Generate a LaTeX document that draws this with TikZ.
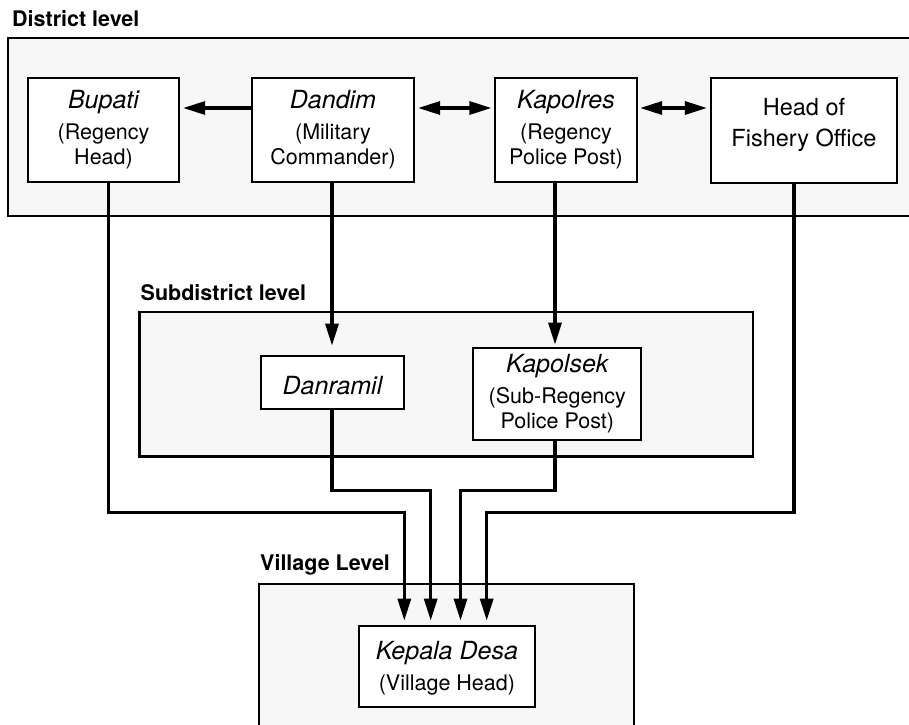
\documentclass[tikz,border=0pt]{standalone}
\usepackage{fontspec}
\setmainfont{TeX Gyre Heros}
\usetikzlibrary{arrows.meta}
\definecolor{levelgray}{HTML}{F7F7F7}
\newcommand{\nmtext}[1]{{\fontsize{25}{25}\selectfont\itshape #1}}
\begin{document}
\begin{tikzpicture}[x=1pt,y=-1pt,
  levelbox/.style={draw=black, line width=2.2pt, fill=levelgray},
  lbl/.style={anchor=base west, inner sep=0pt, font=\fontsize{21.5}{24}\selectfont\bfseries},
  unit/.style={draw=black, line width=2.2pt, fill=white, align=center, inner sep=0pt,
    font=\fontsize{21.5}{25}\selectfont},
  conn/.style={line width=3.2pt, -{Triangle[length=22pt,width=13pt]}},
  dconn/.style={line width=3.2pt, {Triangle[length=22pt,width=13pt]}-{Triangle[length=22pt,width=13pt]}}
]
\useasboundingbox (0,0) rectangle (909,724);

% level boxes
\path[levelbox] (8,38) rectangle (915,216);
\path[levelbox] (139.5,312) rectangle (753.3,456.5);
\path[levelbox] (259,584.3) rectangle (634.3,735);

\node[lbl] (lvd) at (12,26) {District level};
\node[lbl] (lvs) at (140.5,300.7) {Subdistrict level};
\node[lbl] (lvv) at (260,570) {Village Level};

% units
\node[unit, minimum width=151pt, minimum height=104pt] (bupati) at (103.5,130)
  {\nmtext{Bupati}\\[6pt](Regency\\Head)};
\node[unit, minimum width=162pt, minimum height=104pt] (dandim) at (333,130)
  {\nmtext{Dandim}\\[6pt](Military\\Commander)};
\node[unit, minimum width=142pt, minimum height=104pt] (kapolres) at (566,130)
  {\nmtext{Kapolres}\\[6pt](Regency\\Police Post)};
\node[unit, minimum width=186pt, minimum height=105pt, font=\fontsize{23.5}{31.7}\selectfont] (fishery) at (804,130.5)
  {Head of\\Fishery Office\rule[-16pt]{0pt}{1pt}};
\node[unit, minimum width=143pt, minimum height=53.3pt] (danramil) at (332.5,382.7)
  {\nmtext{\rule{0pt}{23pt}Danramil}};
\node[unit, minimum width=168pt, minimum height=92.6pt] (kapolsek) at (557.3,394)
  {\nmtext{Kapolsek}\\[6pt](Sub-Regency\\Police Post)};
\node[unit, minimum width=175.7pt, minimum height=81pt] (kepala) at (446.9,666.2)
  {\nmtext{\rule{0pt}{22.7pt}Kepala Desa}\\[6pt](Village Head)};

% routing coordinates
\coordinate (arow) at (0,108);
\coordinate (xB) at (108.3,0);
\coordinate (xD) at (332,0);
\coordinate (xP) at (555,0);
\coordinate (xF) at (794,0);
\coordinate (hB) at (0,512.7);
\coordinate (hD) at (0,490.7);
\coordinate (k1) at (404.3,0);
\coordinate (k2) at (430.7,0);
\coordinate (k3) at (460.5,0);
\coordinate (k4) at (486.7,0);

% district level connectors
\draw[conn, shorten >=3pt] (dandim.west |- arow) -- (bupati.east |- arow);
\draw[dconn, shorten <=3pt, shorten >=2.5pt] (dandim.east |- arow) -- (kapolres.west |- arow);
\draw[dconn, shorten <=2pt, shorten >=3pt] (kapolres.east |- arow) -- (fishery.west |- arow);

% down to subdistrict
\draw[conn, shorten >=1pt] (xD |- dandim.south) -- (xD |- kapolsek.north);
\draw[conn, shorten >=2pt] (xP |- kapolres.south) -- (xP |- kapolsek.north);

% down to village
\draw[conn, shorten >=4pt] (xB |- bupati.south) -- (xB |- hB) -- (k1 |- hB) -- (k1 |- kepala.north);
\draw[conn, shorten >=4pt] (xD |- danramil.south) -- (xD |- hD) -- (k2 |- hD) -- (k2 |- kepala.north);
\draw[conn, shorten >=4pt] (xP |- kapolsek.south) -- (xP |- hD) -- (k3 |- hD) -- (k3 |- kepala.north);
\draw[conn, shorten >=4pt] (xF |- fishery.south) -- (xF |- hB) -- (k4 |- hB) -- (k4 |- kepala.north);
\end{tikzpicture}
\end{document}
